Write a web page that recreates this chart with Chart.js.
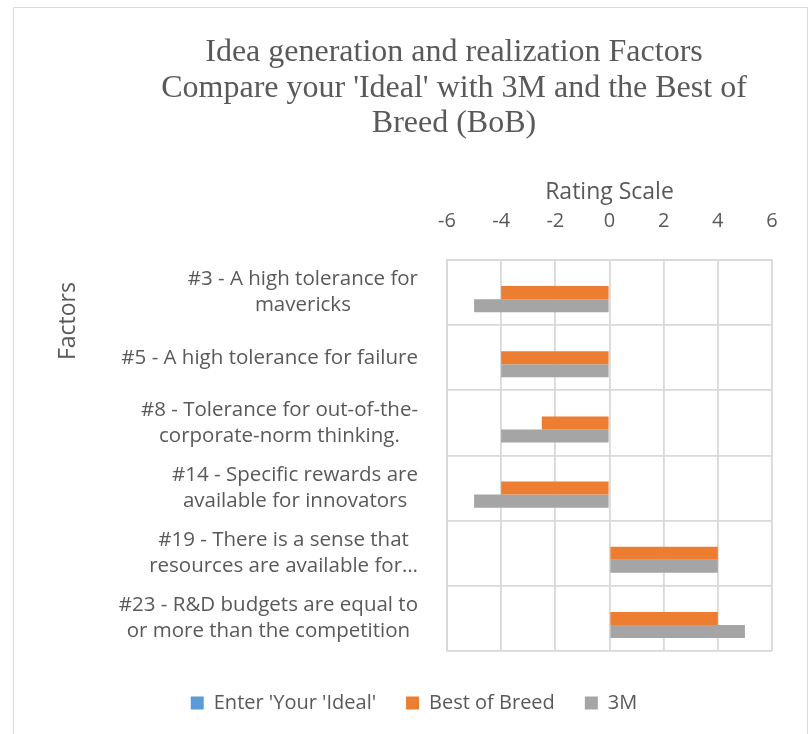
<!DOCTYPE html>
<html>
<head>
<meta charset="utf-8">
<script src="https://cdn.jsdelivr.net/npm/chart.js@4/dist/chart.umd.min.js"></script>
<style>
  html, body { margin: 0; padding: 0; background: #fff; overflow: hidden; }
  #frame { position: absolute; left: 13px; top: 7px; width: 793px; height: 800px; border: 1px solid #d9d9d9; }
  canvas { display: block; }
</style>
</head>
<body>
<div id="frame"><canvas id="chart" width="793" height="726"></canvas></div>
<script>
// chart data
var titleLines = [
  "Idea generation and realization Factors",
  "Compare your 'Ideal' with 3M and the Best of",
  "Breed (BoB)"
];
var categories = [
  ["#3 - A high tolerance for", "mavericks"],
  ["#5 - A high tolerance for failure"],
  ["#8 - Tolerance for out-of-the-", "corporate-norm thinking."],
  ["#14 - Specific rewards are", "available for innovators"],
  ["#19 - There is a sense that", "resources are available for\u2026"],
  ["#23 - R&D budgets are equal to", "or more than the competition"]
];
var seriesNames = ["Enter 'Your 'Ideal'", "Best of Breed", "3M"];
var idealValues = [null, null, null, null, null, null];
var bobValues = [-4, -4, -2.5, -4, 4, 4];
var threeMValues = [-5, -4, -4, -5, 4, 5];
var xTicks = [-6, -4, -2, 0, 2, 4, 6];

var textColor = '#595959';
var gridColor = '#d9d9d9';

// category labels are drawn here so each block's lines are centred like in Excel
var factorLabels = {
  id: 'factorLabels',
  afterLayout: function (chart) {
    // title and legend sit off-centre in the original
    chart.titleBlock.left += 61;
    chart.titleBlock.right += 61;
    chart.legend.left += 21;
    chart.legend.right += 21;
  },
  afterDraw: function (chart) {
    var ctx = chart.ctx, yScale = chart.scales.y, area = chart.chartArea;
    ctx.save();
    ctx.fillStyle = textColor;
    ctx.font = '20.5px "Open Sans"';
    ctx.textAlign = 'center';
    ctx.textBaseline = 'middle';
    categories.forEach(function (lines, i) {
      var w = Math.max.apply(null, lines.map(function (l) { return ctx.measureText(l).width; }));
      var cx = area.left - 29 - w / 2;
      var cy = yScale.getPixelForValue(i);
      lines.forEach(function (line, j) {
        ctx.fillText(line, cx, cy + (j - (lines.length - 1) / 2) * 26);
      });
    });
    ctx.font = '23px "Open Sans"';
    ctx.translate(54, area.top + 61);
    ctx.rotate(-Math.PI / 2);
    ctx.fillText('Factors', 0, 0);
    ctx.restore();
  }
};

new Chart(document.getElementById('chart'), {
  type: 'bar',
  data: {
    labels: categories,
    datasets: [
      { label: seriesNames[0], data: idealValues, backgroundColor: '#5b9bd5' },
      { label: seriesNames[1], data: bobValues, backgroundColor: '#ed7d31' },
      { label: seriesNames[2], data: threeMValues, backgroundColor: '#a5a5a5' }
    ]
  },
  options: {
    indexAxis: 'y',
    responsive: false,
    animation: false,
    devicePixelRatio: 1,
    barPercentage: 1,
    categoryPercentage: 0.6,
    layout: { padding: { left: 0, right: 35, top: 0, bottom: 11 } },
    scales: {
      x: {
        position: 'top',
        min: xTicks[0],
        max: xTicks[xTicks.length - 1],
        ticks: { stepSize: 2, color: textColor, padding: 27, font: { family: 'Open Sans', size: 20 } },
        grid: { color: gridColor, lineWidth: 1.8, drawTicks: false },
        border: { color: gridColor, width: 1.8 },
        title: {
          display: true, text: 'Rating Scale', color: textColor,
          font: { family: 'Open Sans', size: 23 }, padding: { top: 35, bottom: 0 }
        },
        afterFit: function (scale) { scale.height = 116; }
      },
      y: {
        ticks: { display: false },
        grid: { color: gridColor, lineWidth: 1.8, drawTicks: false },
        border: { color: gridColor, width: 1.8 },
        afterFit: function (scale) { scale.width = 433; }
      }
    },
    plugins: {
      title: {
        display: true, text: titleLines, color: textColor,
        font: { family: 'Liberation Serif', size: 32, weight: 'normal', lineHeight: 1.11 },
        padding: { top: 27, bottom: 2.5 }
      },
      legend: {
        position: 'bottom',
        title: { display: true, text: '', font: { size: 10 }, padding: 0 },
        labels: { color: textColor, boxWidth: 13, boxHeight: 13, padding: 30, font: { family: 'Open Sans', size: 20 } }
      },
      tooltip: { enabled: false }
    }
  },
  plugins: [factorLabels]
});
</script>
</body>
</html>
